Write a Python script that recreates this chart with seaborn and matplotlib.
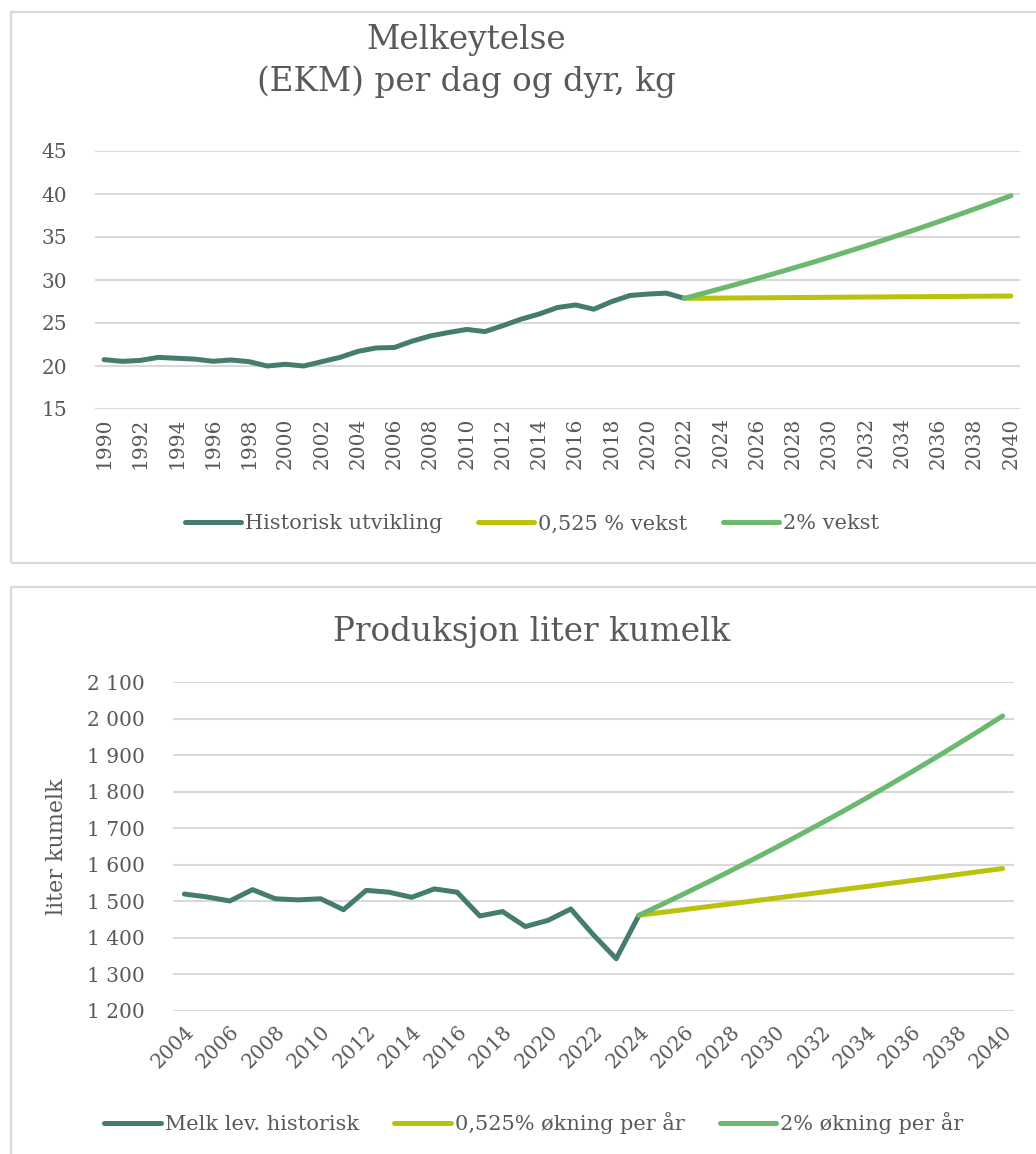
import matplotlib
matplotlib.use("Agg")
import matplotlib.pyplot as plt
import seaborn as sns
from matplotlib.patches import Rectangle
from matplotlib.ticker import FuncFormatter

# ---- data ----
# chart 1: Melkeytelse (EKM) per dag og dyr, kg
top_hist_years = list(range(1990, 2023))
top_hist = [20.74, 20.54, 20.65, 21.0, 20.9, 20.8, 20.55, 20.7, 20.5, 20.0,
            20.2, 20.0, 20.5, 21.0, 21.7, 22.1, 22.15, 22.9, 23.5, 23.9,
            24.25, 24.0, 24.7, 25.45, 26.05, 26.8, 27.1, 26.6, 27.5, 28.2,
            28.37, 28.47, 27.87]
top_proj_years = list(range(2022, 2041))
top_low = [27.87, 27.88, 27.90, 27.91, 27.93, 27.94, 27.96, 27.97, 27.99, 28.00,
           28.02, 28.03, 28.05, 28.06, 28.08, 28.09, 28.11, 28.12, 28.14]
top_high = [27.87, 28.43, 29.00, 29.58, 30.17, 30.77, 31.39, 32.01, 32.65, 33.31,
            33.97, 34.65, 35.35, 36.05, 36.77, 37.51, 38.26, 39.02, 39.80]
top_labels = ["Historisk utvikling", "0,525 % vekst", "2% vekst"]

# chart 2: Produksjon liter kumelk
bot_hist_years = list(range(2004, 2025))
bot_hist = [1520, 1512, 1501, 1532, 1507, 1504, 1507, 1477, 1530, 1525,
            1511, 1534, 1525, 1460, 1472, 1431, 1448, 1479, 1408, 1343, 1462]
bot_proj_years = list(range(2024, 2041))
bot_low = [1462.0, 1469.7, 1477.4, 1485.2, 1493.0, 1500.8, 1508.7, 1516.6, 1524.6,
           1532.6, 1540.6, 1548.7, 1556.8, 1565.0, 1573.2, 1581.5, 1589.8]
bot_high = [1462.0, 1491.2, 1521.1, 1551.5, 1582.5, 1614.2, 1646.4, 1679.4, 1713.0,
            1747.2, 1782.2, 1817.8, 1854.2, 1891.2, 1929.1, 1967.7, 2007.0]
bot_labels = ["Melk lev. historisk", "0,525% økning per år", "2% økning per år"]

TEAL = "#457C70"
YELLOW = "#BBC20B"
GREEN = "#6BB86F"
GRID = "#D9D9D9"
TXT = "#595959"

sns.set_theme(style="white")
plt.rcParams['font.family'] = ['DejaVu Serif']

W, H = 1036, 1154
fig = plt.figure(figsize=(W / 100, H / 100), dpi=100)


def fx(px):
    return px / W


def fy(py):
    return 1 - py / H


# panel frames
for top, bottom in [(12, 563), (587, 1170)]:
    fig.patches.append(Rectangle((fx(11), fy(bottom)), 1.2, (bottom - top) / H,
                                 transform=fig.transFigure, fill=False,
                                 edgecolor=GRID, lw=1.6))


def style_axis(ax):
    for s in ax.spines.values():
        s.set_visible(False)
    ax.grid(axis='y', color=GRID, lw=1.5)
    ax.grid(axis='x', visible=False)
    ax.set_xlabel("")
    ax.set_ylabel("")


line_kw = dict(lw=3.6, solid_capstyle='round', solid_joinstyle='round')
leg_kw = dict(ncol=3, frameon=False, fontsize=15, labelcolor=TXT, handlelength=2.7,
              handletextpad=0.2, columnspacing=1.7, loc='center')

# ---- chart 1 ----
ax1 = fig.add_axes([fx(95), fy(409), fx(1020) - fx(95), (409 - 151) / H])
sns.lineplot(x=top_hist_years, y=top_hist, color=TEAL, label=top_labels[0], ax=ax1, **line_kw)
sns.lineplot(x=top_proj_years, y=top_low, color=YELLOW, label=top_labels[1], ax=ax1, **line_kw)
sns.lineplot(x=top_proj_years, y=top_high, color=GREEN, label=top_labels[2], ax=ax1, **line_kw)
ax1.set_xlim(1989.5, 2040.5)
ax1.set_ylim(15, 45)
ax1.set_yticks(range(15, 50, 5))
ax1.set_xticks(range(1990, 2041, 2))
ax1.tick_params(axis='x', rotation=90, length=0, pad=6, labelsize=14.5, labelcolor=TXT)
ax1.tick_params(axis='y', length=0, pad=20, labelsize=14.5, labelcolor=TXT)
style_axis(ax1)
ax1.legend(bbox_to_anchor=(fx(532), fy(524)), bbox_transform=fig.transFigure, **leg_kw)
fig.text(fx(466), fy(40), "Melkeytelse", ha='center', va='center', fontsize=23.5, color=TXT)
fig.text(fx(466), fy(82), "(EKM) per dag og dyr, kg", ha='center', va='center', fontsize=23.5, color=TXT)

# ---- chart 2 ----
ax2 = fig.add_axes([fx(173), fy(1011), fx(1014) - fx(173), (1011 - 682) / H])
sns.lineplot(x=bot_hist_years, y=bot_hist, color=TEAL, label=bot_labels[0], ax=ax2, **line_kw)
sns.lineplot(x=bot_proj_years, y=bot_low, color=YELLOW, label=bot_labels[1], ax=ax2, **line_kw)
sns.lineplot(x=bot_proj_years, y=bot_high, color=GREEN, label=bot_labels[2], ax=ax2, **line_kw)
ax2.set_xlim(2003.5, 2040.5)
ax2.set_ylim(1200, 2100)
ax2.set_yticks(range(1200, 2101, 100))
ax2.yaxis.set_major_formatter(FuncFormatter(lambda v, p: f"{int(v):,}".replace(",", " ")))
ax2.set_xticks(range(2004, 2041, 2))
ax2.tick_params(axis='y', length=0, pad=20, labelsize=14.5, labelcolor=TXT)
ax2.tick_params(axis='x', length=0, pad=8, labelsize=14.5, labelcolor=TXT)
for lab in ax2.get_xticklabels():
    lab.set_rotation(45)
    lab.set_ha('right')
    lab.set_rotation_mode('anchor')
style_axis(ax2)
ax2.legend(bbox_to_anchor=(fx(534), fy(1123)), bbox_transform=fig.transFigure, **leg_kw)
fig.text(fx(532), fy(632), "Produksjon liter kumelk", ha='center', va='center', fontsize=23.5, color=TXT)
fig.text(fx(57), fy(847), "liter kumelk", ha='center', va='center', rotation=90, fontsize=16, color=TXT)

fig.savefig("out.png", dpi=100)
